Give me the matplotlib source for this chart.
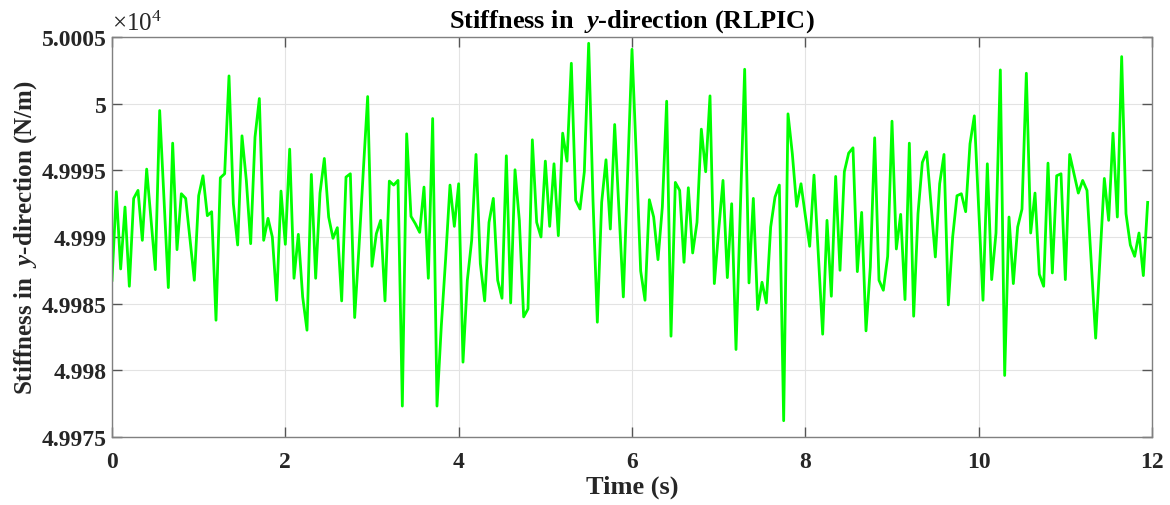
import matplotlib
matplotlib.use("Agg")
import matplotlib.pyplot as plt
import numpy as np

# ---- data (stiffness in N/m, sampled every 0.05 s) ----
dt = 0.05
stiffness = [
    49986.75, 49993.4, 49987.6, 49992.25, 49986.3, 49992.9, 49993.5, 49989.75, 49995.1, 49991.35,
    49987.55, 49999.5, 49992.85, 49986.2, 49997.05, 49989.05, 49993.25, 49992.9, 49989.85, 49986.75,
    49993.1, 49994.6, 49991.6, 49991.9, 49983.75, 49994.45, 49994.75, 50002.1, 49992.5, 49989.4,
    49997.6, 49994.25, 49989.5, 49997.5, 50000.4, 49989.75, 49991.4, 49990.0, 49985.25, 49993.45,
    49989.45, 49996.6, 49986.9, 49990.2, 49985.5, 49983.0, 49994.7, 49986.9, 49993.3, 49995.9,
    49991.5, 49989.9, 49990.7, 49985.2, 49994.5, 49994.75, 49983.95, 49989.25, 49995.0, 50000.55,
    49987.8, 49990.25, 49991.25, 49985.2, 49994.2, 49993.9, 49994.25, 49977.3, 49997.75, 49991.55,
    49991.0, 49990.35, 49993.75, 49986.9, 49998.9, 49977.3, 49983.35, 49988.4, 49993.9, 49990.8,
    49994.0, 49980.6, 49986.75, 49989.75, 49996.2, 49988.0, 49985.2, 49991.1, 49992.9, 49986.75,
    49985.4, 49996.1, 49985.05, 49995.05, 49991.25, 49984.0, 49984.6, 49997.3, 49991.1, 49990.0,
    49995.7, 49990.8, 49995.5, 49990.1, 49997.8, 49995.7, 50003.05, 49992.75, 49992.1, 49994.9,
    50004.55, 49992.75, 49983.6, 49992.6, 49995.8, 49990.6, 49998.45, 49992.0, 49985.5, 49994.8,
    50004.1, 49996.0, 49987.45, 49985.25, 49992.8, 49991.5, 49988.3, 49992.25, 50000.2, 49982.55,
    49994.1, 49993.5, 49988.1, 49993.7, 49988.8, 49991.1, 49998.1, 49994.9, 50000.6, 49986.5,
    49990.5, 49994.25, 49986.95, 49992.5, 49981.55, 49992.1, 50002.6, 49986.55, 49992.9, 49984.55,
    49986.6, 49985.05, 49990.75, 49993.0, 49993.9, 49976.2, 49999.25, 49996.25, 49992.3, 49994.0,
    49991.6, 49989.3, 49994.65, 49988.7, 49982.7, 49991.25, 49985.55, 49994.55, 49987.5, 49994.9,
    49996.3, 49996.7, 49987.4, 49991.85, 49982.95, 49987.75, 49997.45, 49986.75, 49986.0, 49988.55,
    49998.7, 49989.1, 49991.7, 49985.3, 49997.05, 49984.05, 49991.75, 49995.6, 49996.4, 49992.45,
    49988.5, 49994.0, 49996.2, 49984.9, 49990.0, 49993.1, 49993.25, 49991.9, 49997.0, 49999.1,
    49992.2, 49985.25, 49995.5, 49986.8, 49990.3, 50002.55, 49979.6, 49991.5, 49986.5, 49990.75,
    49992.1, 50002.3, 49990.3, 49993.3, 49987.2, 49986.3, 49995.55, 49987.3, 49994.6, 49994.75,
    49986.8, 49996.2, 49994.75, 49993.3, 49994.25, 49993.5, 49988.0, 49982.4, 49988.4, 49994.4,
    49991.25, 49997.8, 49991.5, 50003.55, 49991.75, 49989.4, 49988.55, 49990.3, 49987.1, 49992.6,
]
time = np.arange(len(stiffness)) * dt

x_ticks = [0, 2, 4, 6, 8, 10, 12]
y_ticks = [49975, 49980, 49985, 49990, 49995, 50000, 50005]
y_tick_labels = ["4.9975", "4.998", "4.9985", "4.999", "4.9995", "5", "5.0005"]

# ---- style ----
plt.rcParams["font.family"] = ["Liberation Serif", "DejaVu Serif"]
plt.rcParams["mathtext.fontset"] = "custom"
plt.rcParams["mathtext.rm"] = "Liberation Serif:bold"
plt.rcParams["mathtext.it"] = "Liberation Serif:italic:bold"
plt.rcParams["mathtext.bf"] = "Liberation Serif:bold"

fig = plt.figure(figsize=(11.7, 5.06), dpi=100)
ax = fig.add_axes([112 / 1170, 1 - 437.7 / 506, (1152 - 112) / 1170, (437.7 - 38.3) / 506])

ax.plot(time, stiffness, color="#00ff00", linewidth=2.0)

ax.set_xlim(0, 12)
ax.set_ylim(49975, 50005)
ax.set_xticks(x_ticks)
ax.set_xticklabels([str(v) for v in x_ticks])
ax.set_yticks(y_ticks)
ax.set_yticklabels(y_tick_labels)

tick_color = "#262626"
for lab in ax.get_xticklabels() + ax.get_yticklabels():
    lab.set_fontweight("bold")
    lab.set_fontsize(17)
    lab.set_color(tick_color)

ax.tick_params(axis="both", direction="in", length=7, width=1.0, color="#555555",
               top=True, right=True, pad=4)
ax.tick_params(axis="x", pad=10)
for sp in ax.spines.values():
    sp.set_color("#808080")
    sp.set_linewidth(1.0)

ax.grid(True, color="#e3e3e3", linewidth=0.8)
ax.set_axisbelow(True)

ax.set_xlabel("Time (s)", fontsize=19, fontweight="bold", color=tick_color, labelpad=2)
ax.set_ylabel(r"Stiffness in  $\mathit{y}$-direction (N/m)", fontsize=18,
              fontweight="bold", color=tick_color, labelpad=2)
ax.set_title(r"Stiffness in  $\mathit{y}$-direction (RLPIC)", fontsize=19,
             fontweight="bold", color="black", pad=8)

ax.text(0.0, 1.006, r"×10$^{\mathregular{4}}$", transform=ax.transAxes,
        fontsize=18, fontweight="normal", color=tick_color,
        ha="left", va="bottom", fontfamily="Liberation Serif")

fig.savefig("out.png", dpi=100)
